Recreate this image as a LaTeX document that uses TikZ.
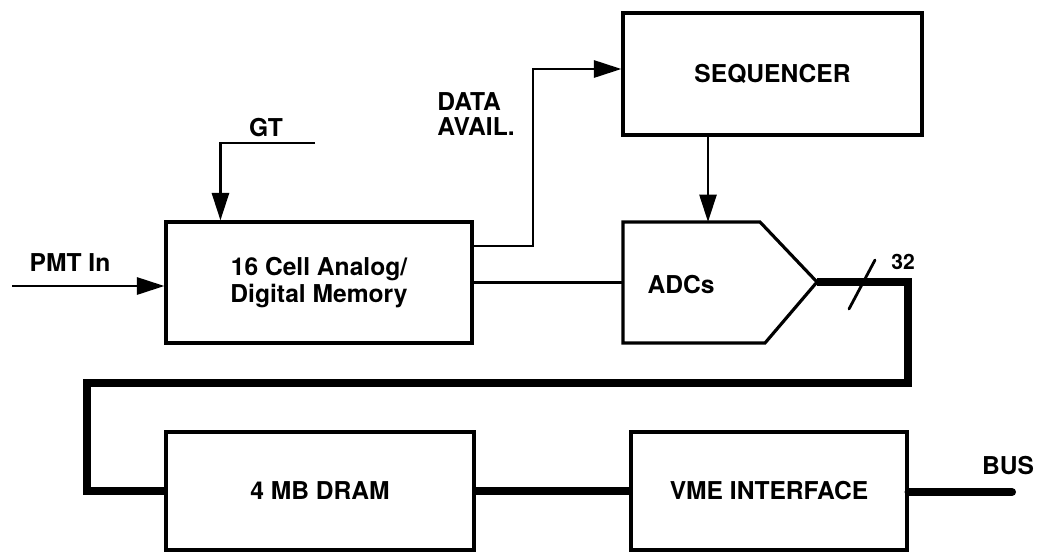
\documentclass[tikz,border=0pt]{standalone}
\usepackage{fontspec}
\setmainfont{TeX Gyre Heros}
\usetikzlibrary{positioning,arrows.meta,calc}
\tikzset{
  >={Triangle[length=5.5mm,width=3.4mm]},
  police/.style={font=\fontsize{14}{15.5}\selectfont\bfseries},
  bloc/.style={draw, line width=1.8pt, police, align=center, inner sep=0pt,
    minimum width=#1, minimum height=2.4cm},
  bloc/.default=6cm,
  signal/.style={line width=1.6pt},
  fleche/.style={->, line width=1.6pt},
  bus/.style={line width=4.6pt, line join=miter},
  etiquette/.style={police, inner sep=0pt},
}
\begin{document}
\begin{tikzpicture}[x=0.02cm, y=0.02cm]
        \useasboundingbox (0,0) rectangle (1037,-552);
        % blocs
        \node[bloc=6.12cm, minimum height=2.42cm] (mem) at (319,-282.5) {16 Cell Analog/\\Digital Memory};
        \node[bloc=5.98cm, minimum height=2.44cm] (seq) at (772.5,-74) {SEQUENCER};
        \node[bloc=6.16cm, minimum height=2.36cm] (dram) at (320,-491) {4 MB DRAM};
        \node[bloc=5.52cm, minimum height=2.36cm] (vme) at (769,-491) {VME INTERFACE};
        % convertisseur
        \draw[line width=1.8pt, line join=miter] (623,-222) coordinate (adcnw) -- (760,-222)
          -- (817,-282) coordinate (adctip) -- (765,-343) -- (623,-343) -- cycle;
        \node[etiquette] (adc) at (681,-285) {ADCs};
        \coordinate (adctop) at (708,-222);
        % entrées
        \coordinate (pmt) at (12,-286);
        \node[etiquette] (pmtlab) at (70,-263) {PMT In};
        \draw[fleche] (pmt) -- (pmt -| mem.west);
        \coordinate (gt) at (315,-143);
        \node[etiquette] (gtlab) at (266,-128) {GT};
        \draw[fleche] (gt) -| ($(mem.north west)+(56,0)$);
        % data avail.
        \coordinate (dacoin) at (533,-246);
        \node[etiquette, anchor=west, align=left, font=\fontsize{14}{14}\selectfont\bfseries] (dalab) at (437,-114) {DATA\\AVAIL.};
        \draw[fleche] (mem.east |- dacoin) -- (dacoin) |- ($(seq.west)+(0,5)$);
        \draw[fleche] (seq.south -| adctop) -- (adctop);
        \draw[signal] (mem.east) -- (mem.east -| adcnw);
        % bus de données
        \coordinate (b1) at (908,-282);
        \coordinate (b2) at (908,-383);
        \coordinate (b3) at (87,-383);
        \draw[bus] (adctip) -- (b1) -- (b2) -- (b3) |- (dram.west);
        \draw[signal, line cap=round] (849,-309) coordinate (s1) -- (875,-260) coordinate (s2);
        \node[etiquette, font=\fontsize{12}{12}\selectfont\bfseries] (largeur) at (903,-262) {32};
        \draw[bus] (dram.east) -- (vme.west);
        \coordinate (sortie) at (1012,-492);
        \draw[bus, line cap=round] (vme.east |- sortie) -- (sortie);
        \node[etiquette] (buslab) at (1008,-466) {BUS};
      \end{tikzpicture}
\end{document}
